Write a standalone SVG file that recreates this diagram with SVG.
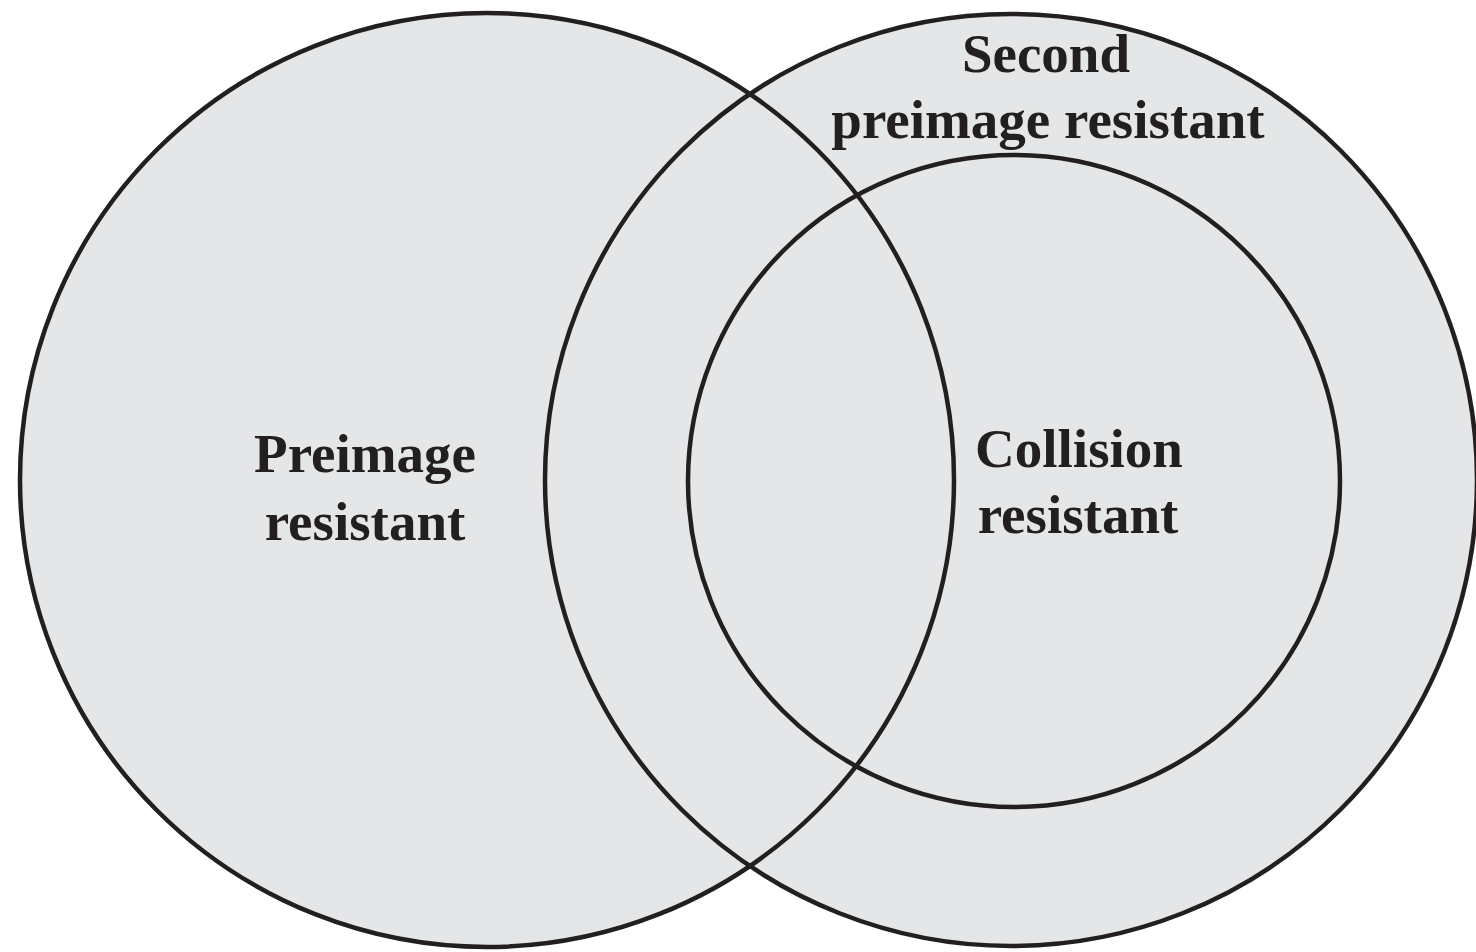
<svg xmlns="http://www.w3.org/2000/svg" width="1476" height="952" viewBox="0 0 1476 952">
  <style>
    .fill { fill: #e5e6e8; stroke: none; }
    .ring { fill: none; stroke: #231f20; stroke-width: 4.5; }
    .label { font-family: "Liberation Serif", "Times New Roman", serif; font-weight: bold; font-size: 55px; fill: #231f20; text-anchor: middle; }
  </style>
  <rect width="1476" height="952" fill="#ffffff"/>
  <!-- shared grey fill beneath all outlines -->
  <g id="fills">
    <circle class="fill" cx="487" cy="480" r="467"/>
    <circle class="fill" cx="1011" cy="480" r="466"/>
  </g>
  <g id="preimage">
    <circle class="ring" cx="487" cy="480" r="467"/>
    <text class="label" x="365" y="472">Preimage</text>
    <text class="label" x="365" y="540">resistant</text>
  </g>
  <g id="second-preimage">
    <circle class="ring" cx="1011" cy="480" r="466"/>
    <text class="label" x="1046" y="72">Second</text>
    <text class="label" x="1048" y="138">preimage resistant</text>
  </g>
  <g id="collision">
    <circle class="ring" cx="1014" cy="481" r="326"/>
    <text class="label" x="1079" y="467">Collision</text>
    <text class="label" x="1078" y="533">resistant</text>
  </g>
</svg>
